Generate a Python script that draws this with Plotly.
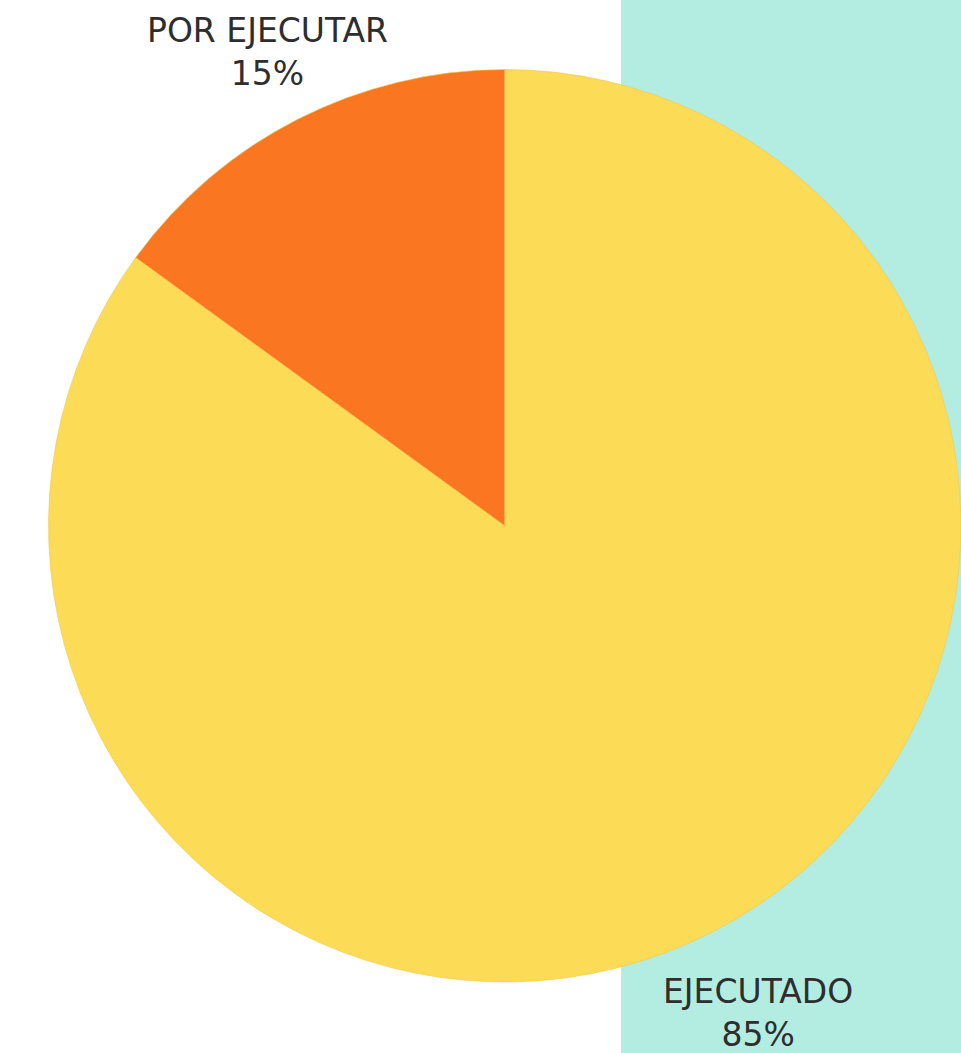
import plotly.graph_objects as go

labels = ["EJECUTADO", "POR EJECUTAR"]
values = [85, 15]
colors = ["#FCDB57", "#FB7620"]
# label anchor positions (paper coords) for the outside labels
label_x = [0.789, 0.278]
label_y = [0.038, 0.951]

W, H = 961, 1053
total = sum(values)

fig = go.Figure(go.Pie(
    labels=labels,
    values=values,
    marker=dict(colors=colors, line=dict(color="#EFC94E", width=0.6)),
    sort=False,
    direction="clockwise",
    rotation=0,
    textinfo="none",
    hoverinfo="label+percent",
    showlegend=False,
    domain=dict(x=[0.0505, 1.0], y=[0.059, 0.9424]),
))

annotations = []
for lab, v, ax, ay in zip(labels, values, label_x, label_y):
    annotations.append(dict(
        x=ax, y=ay, xref="paper", yref="paper",
        text=f"{lab}<br>{round(100 * v / total)}%",
        showarrow=False, xanchor="center", yanchor="middle",
        font=dict(family="DejaVu Sans", size=33, color="#2e2e2e"),
        align="center",
    ))

fig.update_layout(
    width=W, height=H,
    margin=dict(l=0, r=0, t=0, b=0),
    paper_bgcolor="white",
    plot_bgcolor="white",
    shapes=[dict(type="rect", xref="paper", yref="paper",
                 x0=621 / W, x1=1, y0=0, y1=1,
                 fillcolor="#B3EDE2", line=dict(width=0), layer="below")],
    annotations=annotations,
)

fig.write_html(
    "out.html",
    config={"displayModeBar": False},
    post_script="document.body.style.margin='0';document.body.style.overflow='hidden';",
)
